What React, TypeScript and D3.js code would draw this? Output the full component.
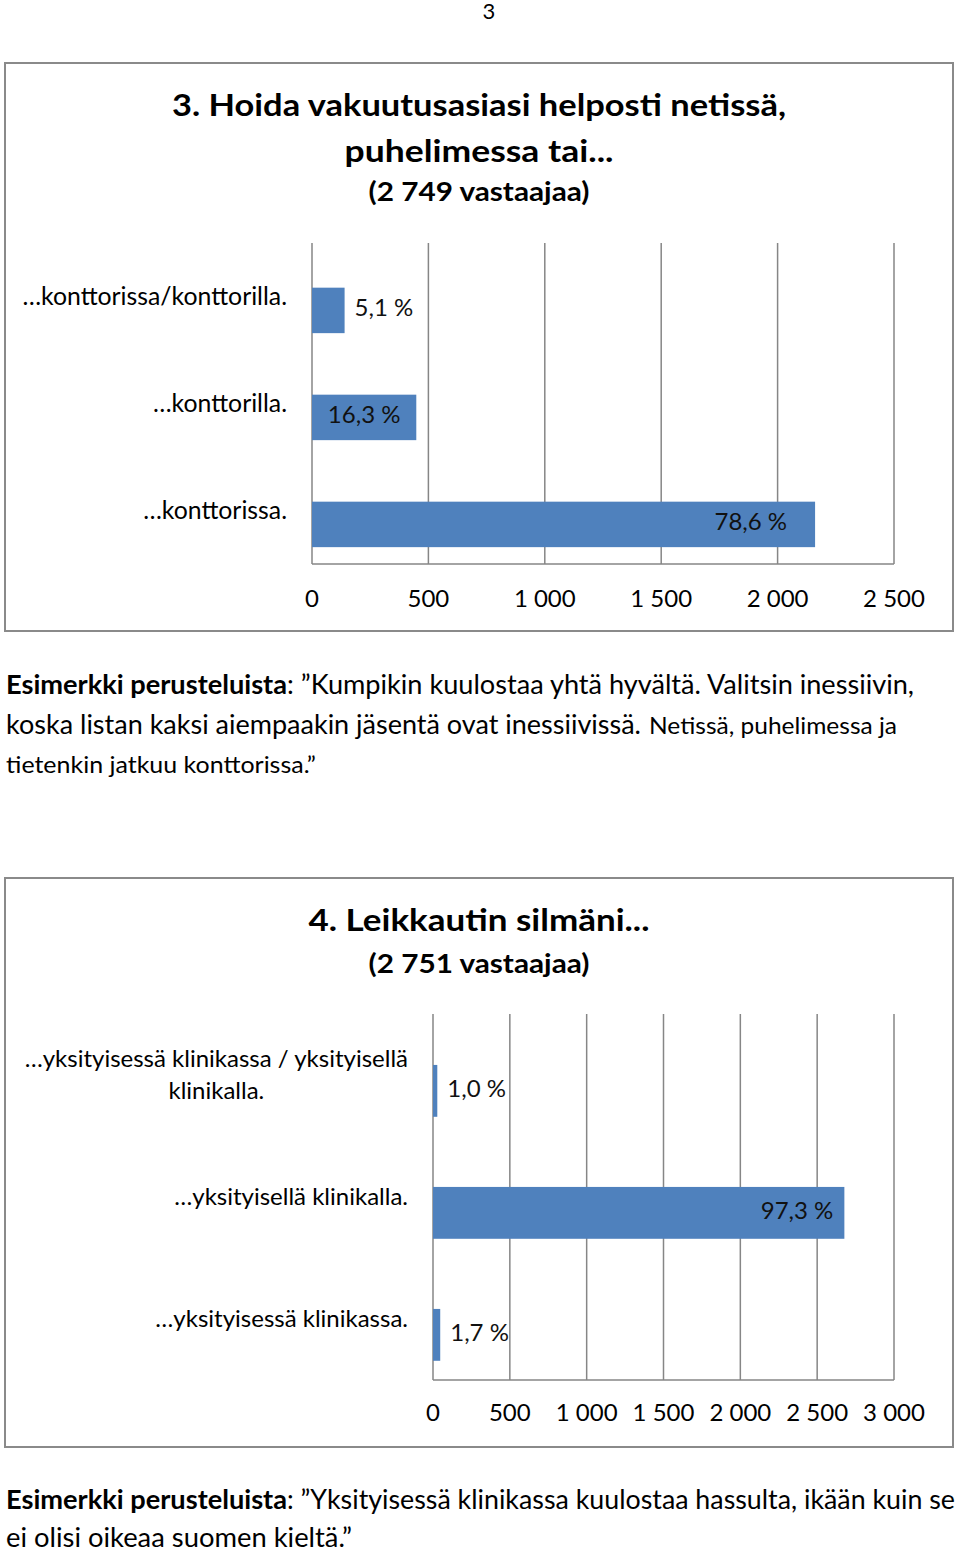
import React, { useEffect, useRef } from "react";
import * as d3 from "d3";

// ---------- data ----------
const pageNumber = "3";

const q3TitleLines = ["3. Hoida vakuutusasiasi helposti netissä,", "puhelimessa tai..."];
const q3Respondents = "(2 749 vastaajaa)";
const q3Categories = [["…konttorissa/konttorilla."], ["…konttorilla."], ["…konttorissa."]];
const q3Counts = [140, 448, 2161];
const q3Percents = ["5,1 %", "16,3 %", "78,6 %"];
const q3Ticks = [0, 500, 1000, 1500, 2000, 2500];

const q4TitleLines = ["4. Leikkautin silmäni..."];
const q4Respondents = "(2 751 vastaajaa)";
const q4Categories = [
  ["…yksityisessä klinikassa / yksityisellä", "klinikalla."],
  ["…yksityisellä klinikalla."],
  ["…yksityisessä klinikassa."],
];
const q4Counts = [28, 2677, 47];
const q4Percents = ["1,0 %", "97,3 %", "1,7 %"];
const q4Ticks = [0, 500, 1000, 1500, 2000, 2500, 3000];

const commentLabel = "Esimerkki perusteluista";
const q3CommentLines = [
  ": ”Kumpikin kuulostaa yhtä hyvältä. Valitsin inessiivin,",
  "koska listan kaksi aiempaakin jäsentä ovat inessiivissä.",
  "Netissä, puhelimessa ja",
  "tietenkin jatkuu konttorissa.”",
];
const q4CommentLines = [
  ": ”Yksityisessä klinikassa kuulostaa hassulta, ikään kuin se",
  "ei olisi oikeaa suomen kieltä.”",
];

// ---------- style / layout ----------
const FONT = "Lato, 'Open Sans', sans-serif";
const BAR = "#4F81BD";
const GRID = "#868686";
const BORDER = "#8a8a8a";
const TEXT = "#000";

const fiFormat = d3.formatLocale({
  decimal: ",",
  thousands: " ",
  grouping: [3],
  currency: ["", " €"],
}).format(",d");

type ChartCfg = {
  box: [number, number, number, number];
  titles: { text: string; y: number; size: number; width: number }[];
  xRange: [number, number];
  xMax: number;
  plotY: [number, number];
  categories: string[][];
  counts: number[];
  percents: string[];
  ticks: number[];
  labelRight: number;
  labelSize: number;
  placement: string[];
  insidePad: number;
  tickY: number;
};

function addText(
  g: d3.Selection<SVGGElement, unknown, null, undefined>,
  text: string,
  x: number,
  y: number,
  size: number,
  opts: { weight?: string; anchor?: string; width?: number; fill?: string } = {}
) {
  const t = g
    .append("text")
    .attr("x", x)
    .attr("y", y)
    .attr("font-family", FONT)
    .attr("font-size", size)
    .attr("font-weight", opts.weight || "normal")
    .attr("text-anchor", opts.anchor || "start")
    .attr("fill", opts.fill || TEXT)
    .text(text);
  if (opts.width) {
    t.attr("textLength", opts.width).attr("lengthAdjust", "spacingAndGlyphs");
  }
  return t;
}

function drawChart(root: d3.Selection<SVGGElement, unknown, null, undefined>, cfg: ChartCfg) {
  const g = root.append("g");
  const [bx0, by0, bx1, by1] = cfg.box;
  g.append("rect")
    .attr("x", bx0)
    .attr("y", by0)
    .attr("width", bx1 - bx0)
    .attr("height", by1 - by0)
    .attr("fill", "#fff")
    .attr("stroke", BORDER)
    .attr("stroke-width", 2);

  const cx = (bx0 + bx1) / 2;
  cfg.titles.forEach((t) => addText(g, t.text, cx, t.y, t.size, { weight: "bold", anchor: "middle", width: t.width }));

  const x = d3.scaleLinear().domain([0, cfg.xMax]).range(cfg.xRange);
  const y = d3
    .scaleBand<number>()
    .domain(cfg.categories.map((_, i) => i))
    .range(cfg.plotY);
  const step = y.step();
  const barH = step * 0.425;
  const shift = step * 0.13;

  // grid
  g.append("g")
    .selectAll("line")
    .data(cfg.ticks)
    .join("line")
    .attr("x1", (d) => x(d))
    .attr("x2", (d) => x(d))
    .attr("y1", cfg.plotY[0])
    .attr("y2", cfg.plotY[1])
    .attr("stroke", GRID)
    .attr("stroke-width", 1.5);
  g.append("line")
    .attr("x1", x(0))
    .attr("x2", x(cfg.xMax))
    .attr("y1", cfg.plotY[1])
    .attr("y2", cfg.plotY[1])
    .attr("stroke", GRID)
    .attr("stroke-width", 1.5);

  // bars
  g.append("g")
    .selectAll("rect")
    .data(cfg.counts)
    .join("rect")
    .attr("x", x(0))
    .attr("y", (_, i) => (y(i) as number) + step / 2 + shift - barH / 2)
    .attr("width", (d) => x(d) - x(0))
    .attr("height", barH)
    .attr("fill", BAR);

  // tick labels
  cfg.ticks.forEach((t) => addText(g, fiFormat(t), x(t), cfg.tickY, 24, { anchor: "middle" }));

  // category labels
  cfg.categories.forEach((lines, i) => {
    const center = (y(i) as number) + step / 2;
    const lh = 32;
    const top = center - ((lines.length - 1) * lh) / 2;
    if (lines.length === 1) {
      addText(g, lines[0], cfg.labelRight, top + 8, cfg.labelSize, { anchor: "end" });
    } else {
      const nodes = lines.map((l, k) =>
        addText(g, l, cfg.labelRight, top + k * lh + 8, cfg.labelSize, { anchor: "middle" })
      );
      const w = d3.max(nodes, (n) => (n.node() as SVGTextElement).getComputedTextLength()) || 0;
      nodes.forEach((n) => n.attr("x", cfg.labelRight - w / 2));
    }
  });

  // data labels
  cfg.counts.forEach((d, i) => {
    const cy = (y(i) as number) + step / 2 + shift;
    const mode = cfg.placement[i];
    const end = x(d);
    let lx = end + 10;
    let anchor = "start";
    if (mode === "center") {
      lx = (x(0) + end) / 2;
      anchor = "middle";
    } else if (mode === "insideEnd") {
      lx = end - cfg.insidePad;
      anchor = "end";
    }
    addText(g, cfg.percents[i], lx, cy + 6, 24, { anchor, fill: "#111" });
  });
}

function drawComment(
  root: d3.Selection<SVGGElement, unknown, null, undefined>,
  segs: { text: string; x: number; y: number; size: number; width: number; bold?: boolean }[]
) {
  const g = root.append("g");
  segs.forEach((s) => addText(g, s.text, s.x, s.y, s.size, { weight: s.bold ? "bold" : "normal", width: s.width }));
}

export default function App() {
  const ref = useRef<SVGSVGElement>(null);
  useEffect(() => {
    const svg = d3.select(ref.current as SVGSVGElement);
    svg.selectAll("*").remove();
    const root = svg.append("g") as d3.Selection<SVGGElement, unknown, null, undefined>;

    addText(root, pageNumber, 489, 19, 22, { anchor: "middle" });

    drawChart(root, {
      box: [5, 63, 953, 631],
      titles: [
        { text: q3TitleLines[0], y: 116, size: 31, width: 614 },
        { text: q3TitleLines[1], y: 162, size: 31, width: 269 },
        { text: q3Respondents, y: 201, size: 27, width: 221 },
      ],
      xRange: [312, 894],
      xMax: 2500,
      plotY: [243, 564],
      categories: q3Categories,
      counts: q3Counts,
      percents: q3Percents,
      ticks: q3Ticks,
      labelRight: 287,
      labelSize: 24.8,
      placement: ["outside", "center", "insideEnd"],
      insidePad: 28,
      tickY: 607,
    });

    drawComment(root, [
      { text: commentLabel, x: 6, y: 694, size: 27, width: 281, bold: true },
      { text: q3CommentLines[0], x: 287, y: 694, size: 27, width: 627 },
      { text: q3CommentLines[1], x: 6, y: 734, size: 27, width: 635 },
      { text: q3CommentLines[2], x: 649, y: 734, size: 24, width: 248 },
      { text: q3CommentLines[3], x: 6, y: 773, size: 24, width: 310 },
    ]);

    drawChart(root, {
      box: [5, 878, 953, 1447],
      titles: [
        { text: q4TitleLines[0], y: 931, size: 31, width: 341 },
        { text: q4Respondents, y: 973, size: 27, width: 221 },
      ],
      xRange: [433, 894],
      xMax: 3000,
      plotY: [1014, 1380],
      categories: q4Categories,
      counts: q4Counts,
      percents: q4Percents,
      ticks: q4Ticks,
      labelRight: 408,
      labelSize: 24,
      placement: ["outside", "insideEnd", "outside"],
      insidePad: 11,
      tickY: 1421,
    });

    drawComment(root, [
      { text: commentLabel, x: 6, y: 1509, size: 27, width: 281, bold: true },
      { text: q4CommentLines[0], x: 287, y: 1509, size: 27, width: 668 },
      { text: q4CommentLines[1], x: 6, y: 1547, size: 27, width: 346 },
    ]);
  }, []);

  return (
    <svg
      ref={ref}
      width={960}
      height={1551}
      style={{ position: "absolute", left: 0, top: 0, background: "#fff" }}
    />
  );
}
